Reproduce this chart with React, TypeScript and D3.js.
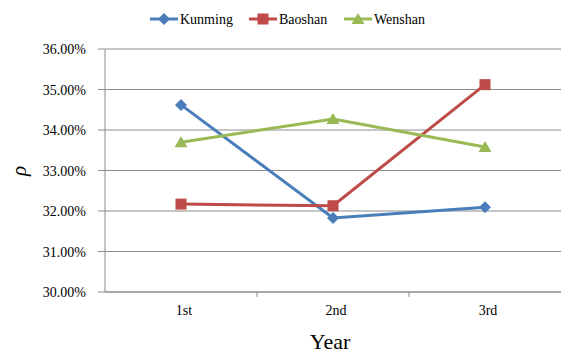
import React from 'react';
import * as d3 from 'd3';

const years = ['1st', '2nd', '3rd'];
const kunming = [0.3462, 0.3183, 0.3209];
const baoshan = [0.3217, 0.3213, 0.3512];
const wenshan = [0.3370, 0.3427, 0.3358];
const yTicks = [0.30, 0.31, 0.32, 0.33, 0.34, 0.35, 0.36];

const series = [
  { name: 'Kunming', values: kunming, color: '#4A7EBB', marker: 'diamond' },
  { name: 'Baoshan', values: baoshan, color: '#BE4B48', marker: 'square' },
  { name: 'Wenshan', values: wenshan, color: '#98B954', marker: 'triangle' },
];

const width = 562;
const height = 354;
const left = 105;
const right = 561;
const top = 49;
const bottom = 292;
const font = 'Liberation Serif';

function Marker({ type, x, y, color }: { type: string; x: number; y: number; color: string }) {
  if (type === 'diamond') {
    return <path d={`M${x},${y - 6}L${x + 6},${y}L${x},${y + 6}L${x - 6},${y}Z`} fill={color} />;
  }
  if (type === 'square') {
    return <rect x={x - 5.5} y={y - 5.5} width={11} height={11} fill={color} />;
  }
  return <path d={`M${x},${y - 6}L${x + 6.5},${y + 5}L${x - 6.5},${y + 5}Z`} fill={color} />;
}

export default function App() {
  const x = d3.scaleBand().domain(years).range([left, right]);
  const y = d3.scaleLinear().domain([0.30, 0.36]).range([bottom, top]);
  const fmt = d3.format('.2%');
  const line = d3
    .line<number>()
    .x((d, i) => x(years[i])! + x.bandwidth() / 2)
    .y((d) => y(d));

  const legendX = [150, 249, 344];

  return (
    <svg width={width} height={height} style={{ position: 'absolute', left: 0, top: 0 }}>
      <rect width={width} height={height} fill="#fff" />
      {yTicks.map((t) => (
        <g key={t}>
          <line x1={left} x2={right} y1={y(t)} y2={y(t)} stroke="#8c8c8c" strokeWidth={1} />
          <line x1={left - 7} x2={left} y1={y(t)} y2={y(t)} stroke="#8c8c8c" />
          <text x={left - 19} y={y(t) + 5} textAnchor="end" fontFamily={font} fontSize={14}>
            {fmt(t)}
          </text>
        </g>
      ))}
      <line x1={left} x2={left} y1={top} y2={bottom} stroke="#8c8c8c" />
      <line x1={left} x2={right} y1={bottom} y2={bottom} stroke="#8c8c8c" />
      {years.map((yr, i) => (
        <g key={yr}>
          {i > 0 && (
            <line x1={x(yr)} x2={x(yr)} y1={bottom} y2={bottom + 5} stroke="#8c8c8c" />
          )}
          <text
            x={x(yr)! + x.bandwidth() / 2 + 3}
            y={bottom + 23}
            textAnchor="middle"
            fontFamily={font}
            fontSize={14}
          >
            {yr}
          </text>
        </g>
      ))}
      {series.map((s) => (
        <g key={s.name}>
          <path d={line(s.values)!} fill="none" stroke={s.color} strokeWidth={3} />
          {s.values.map((v, i) => (
            <Marker
              key={i}
              type={s.marker}
              x={x(years[i])! + x.bandwidth() / 2}
              y={y(v)}
              color={s.color}
            />
          ))}
        </g>
      ))}
      {series.map((s, i) => (
        <g key={s.name}>
          <line x1={legendX[i]} x2={legendX[i] + 28} y1={19} y2={19} stroke={s.color} strokeWidth={3} />
          <Marker type={s.marker} x={legendX[i] + 14} y={19} color={s.color} />
          <text x={legendX[i] + 30} y={24} fontFamily={font} fontSize={14}>
            {s.name}
          </text>
        </g>
      ))}
      <text x={330} y={349} textAnchor="middle" fontFamily={font} fontSize={22}>
        Year
      </text>
      <text
        transform="translate(26,171) rotate(-90)"
        textAnchor="middle"
        fontFamily={font}
        fontStyle="italic"
        fontSize={21}
      >
        ρ
      </text>
    </svg>
  );
}
